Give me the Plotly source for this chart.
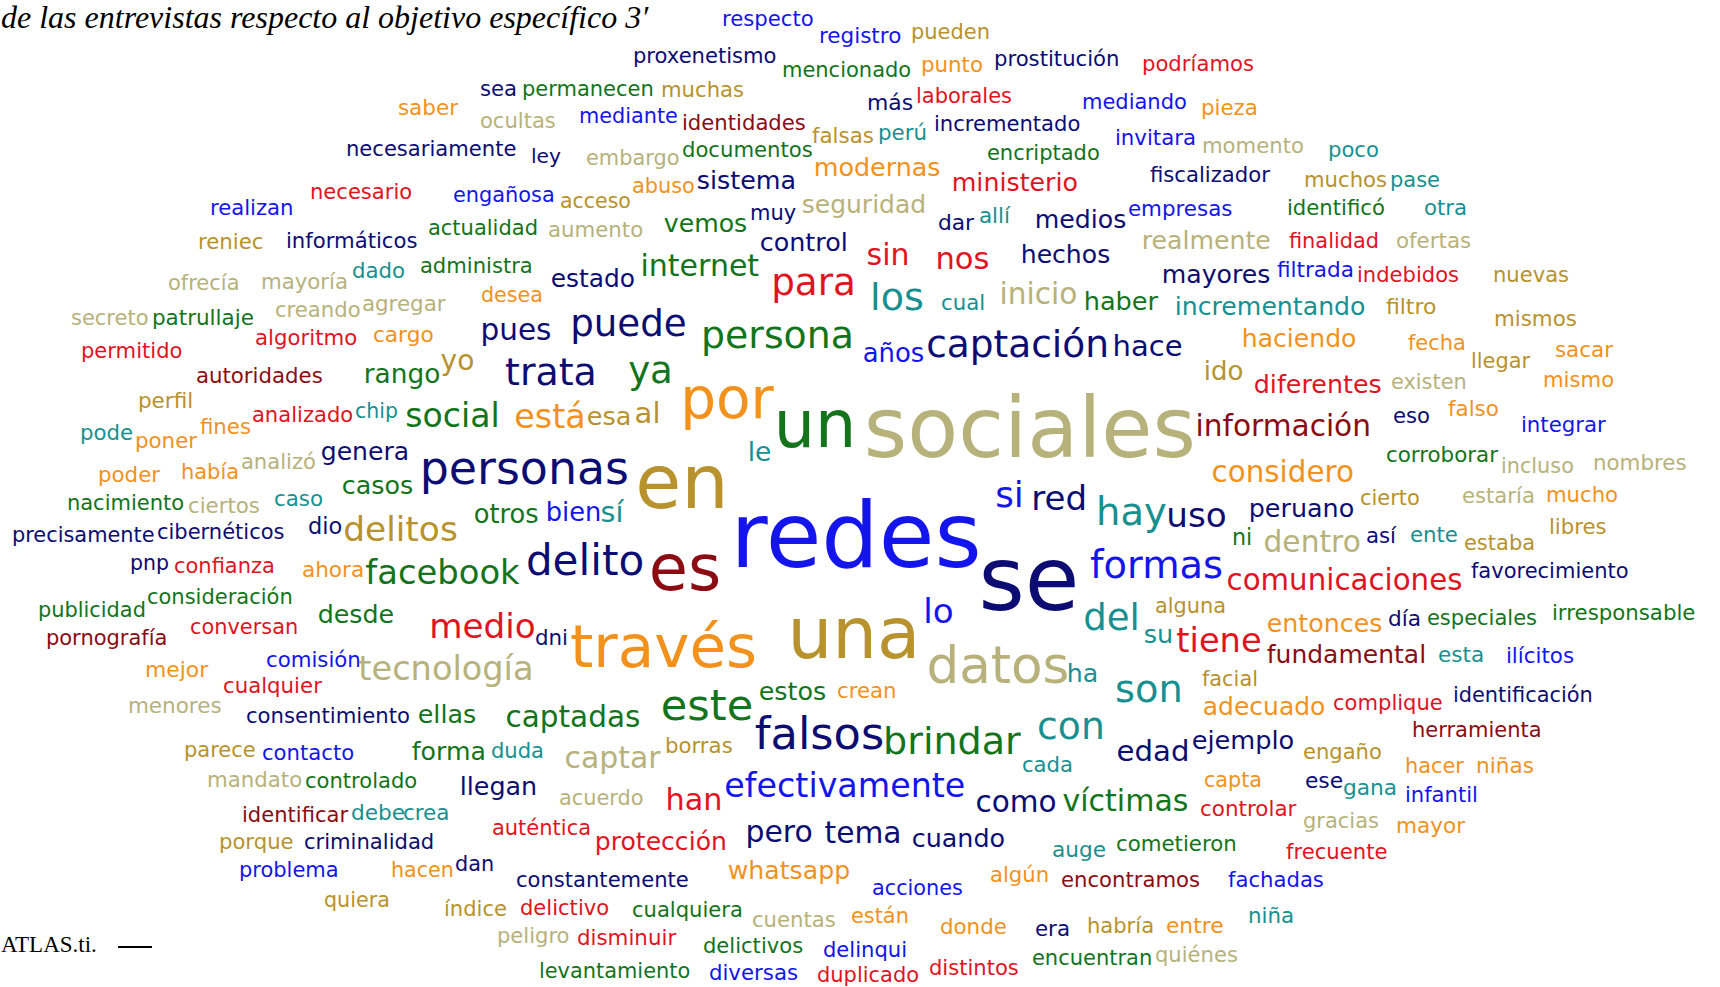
import unicodedata
import plotly.graph_objects as go

# ---- word cloud data ----
words = """respecto registro pueden proxenetismo mencionado punto prostitución podríamos
sea permanecen muchas más laborales mediando pieza saber
ocultas mediante identidades incrementado perú falsas invitara momento
poco necesariamente ley embargo documentos encriptado modernas ministerio
fiscalizador muchos pase necesario abuso sistema realizan engañosa
acceso seguridad dar allí medios empresas identificó otra
reniec informáticos actualidad aumento vemos muy control realmente
finalidad ofertas ofrecía mayoría dado administra estado internet
para sin nos hechos mayores filtrada indebidos nuevas
secreto patrullaje creando agregar desea los cual inicio
haber incrementando filtro mismos pues puede persona algoritmo
cargo haciendo fecha años captación hace sacar permitido
llegar yo autoridades rango trata ya ido existen
mismo diferentes perfil por chip analizado fines social
está esa al falso eso integrar información pode
poner un sociales genera le corroborar analizó incluso
nombres poder había personas considero casos cierto estaría
mucho en si red nacimiento ciertos caso peruano
otros bien sí hay uso libres dio precisamente
cibernéticos delitos ni así ente dentro estaba redes
pnp confianza ahora delito facebook formas favorecimiento es
comunicaciones consideración se publicidad desde lo alguna irresponsable
especiales día del entonces conversan medio su dni
pornografía tiene una esta ilícitos fundamental través comisión
mejor tecnología datos ha facial cualquier crean estos
son identificación complique menores adecuado este consentimiento ellas
captadas herramienta con falsos ejemplo borras brindar parece
duda engaño contacto forma edad captar cada hacer
niñas mandato controlado capta ese llegan gana efectivamente
infantil acuerdo han como víctimas controlar debe crea
identificar gracias mayor auténtica pero tema cuando porque
criminalidad protección cometieron auge frecuente dan problema hacen
whatsapp algún encontramos fachadas constantemente acciones quiera índice
delictivo cualquiera están niña cuentas habría entre donde
era peligro disminuir delictivos delinqui quiénes encuentran distintos
levantamiento diversas duplicado""".split()

x_left = [
    723, 820, 912, 634, 783, 922, 995, 1143,
    481, 523, 662, 868, 917, 1083, 1202, 399,
    481, 580, 683, 935, 879, 813, 1116, 1203,
    1329, 347, 532, 587, 683, 988, 815, 953,
    1151, 1305, 1391, 311, 633, 698, 211, 454,
    561, 803, 939, 980, 1036, 1129, 1288, 1425,
    199, 287, 429, 549, 665, 751, 761, 1143,
    1290, 1397, 169, 262, 353, 421, 552, 642,
    773, 868, 937, 1022, 1163, 1278, 1358, 1494,
    72, 153, 276, 363, 482, 872, 942, 1001,
    1085, 1176, 1387, 1495, 482, 572, 703, 256,
    374, 1243, 1409, 864, 928, 1114, 1556, 82,
    1472, 442, 197, 365, 507, 630, 1205, 1392,
    1544, 1255, 139, 683, 356, 253, 201, 407,
    516, 588, 636, 1449, 1394, 1522, 1197, 81,
    136, 777, 868, 322, 749, 1387, 242, 1502,
    1594, 99, 182, 422, 1213, 343, 1361, 1463,
    1547, 639, 997, 1033, 68, 189, 275, 1250,
    475, 547, 602, 1098, 1168, 1550, 309, 13,
    158, 345, 1233, 1367, 1411, 1265, 1465, 735,
    131, 175, 303, 528, 367, 1092, 1472, 652,
    1228, 148, 983, 39, 319, 925, 1156, 1553,
    1428, 1389, 1085, 1268, 191, 431, 1145, 536,
    47, 1178, 791, 1439, 1507, 1268, 573, 267,
    146, 360, 929, 1068, 1203, 224, 838, 760,
    1117, 1454, 1334, 129, 1204, 663, 247, 419,
    507, 1413, 1039, 757, 1193, 666, 885, 185,
    492, 1304, 263, 413, 1118, 566, 1023, 1406,
    1477, 208, 306, 1205, 1306, 461, 1344, 726,
    1406, 560, 667, 977, 1064, 1201, 352, 404,
    243, 1304, 1397, 493, 747, 826, 913, 220,
    305, 596, 1117, 1053, 1287, 456, 240, 392,
    729, 991, 1062, 1229, 517, 873, 325, 445,
    521, 633, 852, 1249, 753, 1088, 1167, 941,
    1036, 498, 578, 704, 824, 1156, 1033, 930,
    540, 710, 818,
]

x_right = [
    813, 901, 989, 777, 910, 982, 1119, 1253,
    516, 653, 743, 912, 1011, 1186, 1257, 457,
    555, 677, 805, 1080, 926, 873, 1195, 1303,
    1378, 515, 560, 679, 812, 1099, 940, 1077,
    1269, 1386, 1439, 411, 694, 795, 293, 554,
    630, 925, 973, 1009, 1125, 1232, 1384, 1466,
    263, 417, 537, 642, 746, 795, 847, 1270,
    1378, 1470, 239, 347, 404, 532, 634, 758,
    854, 908, 988, 1109, 1270, 1353, 1458, 1568,
    148, 253, 360, 445, 542, 922, 984, 1076,
    1157, 1365, 1436, 1576, 550, 685, 852, 356,
    433, 1355, 1465, 923, 1107, 1181, 1612, 182,
    1529, 473, 322, 439, 595, 671, 1242, 1466,
    1613, 1381, 192, 771, 397, 352, 250, 498,
    584, 630, 659, 1498, 1429, 1605, 1370, 132,
    196, 853, 1192, 408, 770, 1498, 315, 1573,
    1686, 159, 238, 627, 1353, 412, 1419, 1534,
    1617, 725, 1022, 1086, 183, 259, 322, 1353,
    538, 600, 622, 1165, 1225, 1606, 341, 154,
    284, 456, 1251, 1395, 1457, 1360, 1534, 979,
    168, 274, 363, 642, 518, 1222, 1628, 718,
    1461, 292, 1075, 145, 393, 952, 1225, 1695,
    1536, 1420, 1138, 1381, 297, 534, 1172, 567,
    167, 1260, 917, 1483, 1573, 1425, 754, 360,
    207, 532, 1067, 1097, 1257, 321, 896, 825,
    1181, 1592, 1442, 221, 1324, 751, 409, 475,
    639, 1541, 1103, 882, 1293, 732, 1019, 255,
    543, 1381, 353, 485, 1188, 659, 1072, 1463,
    1533, 301, 417, 1261, 1342, 536, 1396, 964,
    1477, 643, 721, 1055, 1187, 1296, 404, 449,
    347, 1378, 1464, 590, 812, 900, 1004, 293,
    433, 726, 1236, 1105, 1387, 493, 338, 453,
    849, 1048, 1199, 1323, 688, 962, 389, 506,
    608, 742, 908, 1293, 835, 1153, 1223, 1006,
    1069, 569, 675, 802, 906, 1237, 1151, 1018,
    689, 797, 918,
]

baseline = [
    26, 43, 39, 63, 77, 72, 66, 71,
    96, 96, 97, 110, 103, 109, 115, 115,
    128, 123, 130, 131, 140, 143, 145, 153,
    157, 156, 163, 165, 157, 160, 176, 191,
    182, 187, 187, 199, 193, 189, 215, 202,
    208, 213, 230, 223, 228, 216, 215, 215,
    249, 248, 235, 237, 232, 220, 251, 249,
    248, 248, 290, 289, 278, 273, 287, 276,
    295, 265, 269, 263, 283, 277, 282, 282,
    325, 325, 317, 311, 302, 310, 310, 304,
    310, 315, 314, 326, 340, 336, 348, 345,
    342, 347, 350, 362, 357, 356, 357, 358,
    368, 370, 383, 383, 385, 383, 380, 389,
    387, 393, 408, 418, 418, 422, 434, 427,
    428, 425, 423, 416, 423, 432, 436, 440,
    448, 447, 457, 460, 461, 462, 469, 473,
    470, 482, 479, 484, 482, 494, 505, 503,
    502, 508, 507, 510, 510, 513, 506, 517,
    523, 521, 522, 525, 527, 534, 534, 542,
    539, 541, 545, 543, 542, 552, 550, 567,
    570, 573, 577, 575, 584, 578, 578, 590,
    590, 604, 610, 617, 623, 623, 613, 620,
    625, 626, 630, 632, 634, 638, 643, 645,
    645, 652, 658, 662, 663, 663, 667, 667,
    677, 680, 683, 682, 686, 693, 698, 700,
    702, 702, 710, 713, 715, 720, 723, 723,
    727, 737, 739, 749, 749, 753, 754, 757,
    758, 759, 760, 760, 761, 768, 772, 773,
    773, 787, 788, 787, 788, 795, 795, 797,
    802, 805, 810, 812, 811, 816, 820, 820,
    822, 828, 833, 835, 842, 843, 847, 849,
    849, 850, 851, 857, 859, 871, 877, 877,
    879, 882, 887, 887, 887, 895, 907, 916,
    915, 917, 923, 923, 927, 933, 933, 934,
    936, 943, 945, 953, 957, 962, 965, 975,
    978, 980, 982,
]

color_codes = """bl bl gd nv gr or nv rd
nv gr gd nv rd bl or or
kh bl mr nv tl gd bl kh
tl nv nv kh gr gr or rd
nv gd tl rd or nv bl bl
gd kh nv tl nv bl gr tl
gd nv gr kh gr nv nv kh
rd kh kh kh tl gr nv gr
rd rd rd nv nv bl rd gd
kh gr kh kh or tl tl kh
gr tl gd gd nv nv gr rd
or or or bl nv nv or rd
gd gd mr gr nv gr gd kh
or rd gd or tl rd or gr
or gd gd or nv bl mr tl
or gr kh nv tl gr kh kh
kh or or nv or gr gd kh
or gd bl nv gr kh tl nv
gr bl tl tl nv gd nv nv
nv gd gr nv tl kh gd bl
nv rd or nv gr bl nv mr
rd gr nv gr gr bl gd gr
gr nv tl or rd rd tl nv
mr rd gd tl bl mr or bl
or kh kh tl gd rd or gr
tl nv rd kh or gr nv gr
gr mr tl nv nv gd gr gd
tl gd bl gr nv kh tl or
or kh gr or nv nv tl bl
bl kh rd nv gr rd tl tl
mr kh or rd nv nv nv gd
nv rd gr tl rd nv bl or
or or mr bl nv bl gd gd
rd gr or tl kh gd or or
nv kh rd gr bl kh gr rd
gr bl rd""".split()

title_text = "de las entrevistas respecto al objetivo específico 3′"
source_text = "ATLAS.ti."

assert len(words) == len(x_left) == len(x_right) == len(baseline) == len(color_codes), (
    len(words), len(x_left), len(x_right), len(baseline), len(color_codes))

# ---- styles ----
PALETTE = {
    "bl": "#1414ec",  # blue
    "nv": "#0c0c72",  # navy
    "gr": "#13741b",  # green
    "kh": "#b7b27b",  # khaki / light olive
    "gd": "#b8922c",  # gold
    "or": "#f2921d",  # orange
    "rd": "#e0141f",  # red
    "mr": "#8b0c12",  # maroon
    "tl": "#18908f",  # teal
}

# DejaVu Sans advance widths (em)
ADV = {'a': .613, 'b': .635, 'c': .550, 'd': .635, 'e': .615, 'f': .352, 'g': .635,
       'h': .634, 'i': .278, 'j': .278, 'k': .579, 'l': .278, 'm': .974, 'n': .634,
       'o': .612, 'p': .635, 'q': .635, 'r': .411, 's': .521, 't': .392, 'u': .634,
       'v': .592, 'w': .818, 'x': .592, 'y': .592, 'z': .525}


def em_width(word):
    return sum(ADV.get(unicodedata.normalize('NFD', ch)[0], .6) for ch in word)


sizes, xs, ys = [], [], []
for w, l, r, b in zip(words, x_left, x_right, baseline):
    s = (r - l) / (em_width(w) - 0.1)
    sizes.append(round(s, 1))
    xs.append(l - 0.05 * s)
    ys.append(b - 0.25 * s)
colors = [PALETTE[c] for c in color_codes]

W, H = 1720, 987
fig = go.Figure()
fig.add_trace(go.Scatter(
    x=xs, y=ys, text=words, mode="text", textposition="middle right",
    textfont=dict(family="DejaVu Sans", size=sizes, color=colors),
    hoverinfo="text", cliponaxis=False, showlegend=False))

# caption fragments (cropped document text)
fig.add_trace(go.Scatter(
    x=[1], y=[28 - 0.25 * 32], text=[title_text], mode="text",
    textposition="middle right", cliponaxis=False, showlegend=False,
    textfont=dict(family="Liberation Serif", size=32, color="#000000", style="italic"),
    hoverinfo="skip"))
fig.add_trace(go.Scatter(
    x=[1], y=[952 - 0.25 * 23], text=[source_text], mode="text",
    textposition="middle right", cliponaxis=False, showlegend=False,
    textfont=dict(family="Liberation Serif", size=23, color="#000000"),
    hoverinfo="skip"))
fig.add_shape(type="line", x0=118, x1=152, y0=947, y1=947,
              line=dict(color="#000000", width=2))

fig.update_layout(
    width=W, height=H, margin=dict(l=0, r=0, t=0, b=0),
    paper_bgcolor="#ffffff", plot_bgcolor="#ffffff",
    xaxis=dict(range=[0, W], visible=False, fixedrange=True),
    yaxis=dict(range=[H, 0], visible=False, fixedrange=True),
)

fig.write_html("out.html", config={"displayModeBar": False},
               post_script="document.body.style.margin='0';document.body.style.overflow='hidden';")
